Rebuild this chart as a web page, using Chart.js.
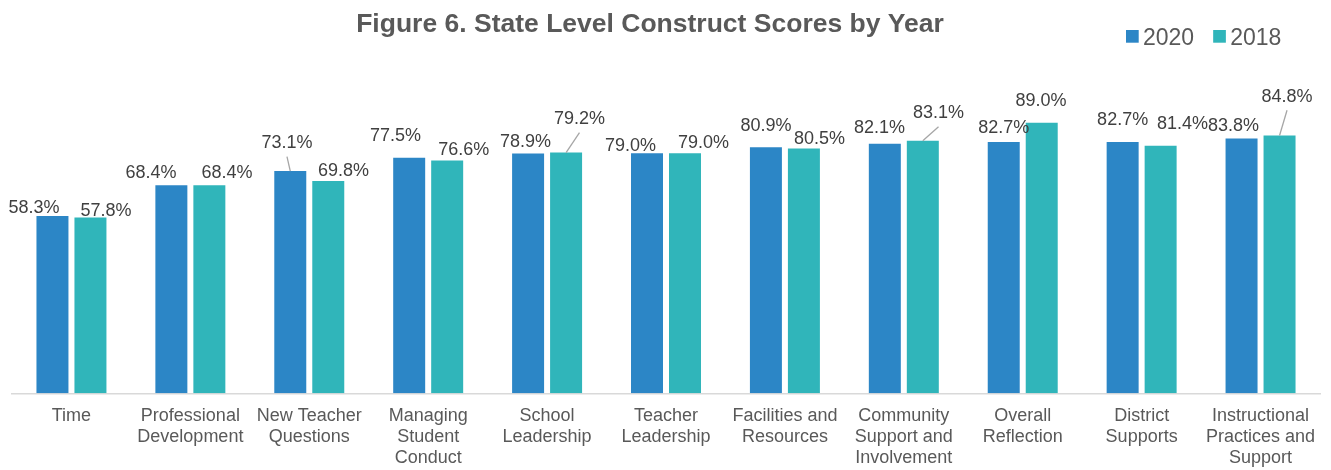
<!DOCTYPE html>
<html>
<head>
<meta charset="utf-8">
<script src="https://cdn.jsdelivr.net/npm/chart.js@4/dist/chart.umd.min.js"></script>
<style>
  html, body { margin: 0; padding: 0; background: #ffffff; }
  #wrap { width: 1331px; height: 470px; }
</style>
</head>
<body>
<div id="wrap"><canvas id="c" width="1331" height="470"></canvas></div>
<script>
const titleText = 'Figure 6. State Level Construct Scores by Year';
const categories = [
  ['Time'],
  ['Professional', 'Development'],
  ['New Teacher', 'Questions'],
  ['Managing', 'Student', 'Conduct'],
  ['School', 'Leadership'],
  ['Teacher', 'Leadership'],
  ['Facilities and', 'Resources'],
  ['Community', 'Support and', 'Involvement'],
  ['Overall', 'Reflection'],
  ['District', 'Supports'],
  ['Instructional', 'Practices and', 'Support']
];
const seriesNames = ['2020', '2018'];
const values2020 = [58.3, 68.4, 73.1, 77.5, 78.9, 79.0, 80.9, 82.1, 82.7, 82.7, 83.8];
const values2018 = [57.8, 68.4, 69.8, 76.6, 79.2, 79.0, 80.5, 83.1, 89.0, 81.4, 84.8];
const colors = ['#2C86C6', '#30B5BA'];

const FONT = '"Liberation Sans", Arial, sans-serif';

// label placement: [dx, dy above bar top, leader line]
const labelOffsets = [
  [[-18.5, 8, 0], [-20.4, 12.4, 0], [-3.3, 28, 1], [-13.7, 21.7, 0], [-2.6, 11.7, 0], [-16.5, 7.4, 0],
   [0, 21.4, 0], [-5.3, 16, 0], [0, 13.6, 0], [0, 21.9, 0], [-8, 12.5, 0]],
  [[15.5, 6.6, 0], [17.6, 12.4, 0], [15.2, 10.1, 0], [16.5, 10.4, 0], [13.4, 33.5, 1], [18.5, 9.8, 0],
   [15.6, 9.3, 0], [15.7, 27.4, 1], [-0.7, 22, 0], [21.9, 21.5, 0], [7.5, 38.8, 1]]
];

const barLabels = {
  id: 'barLabels',
  afterDatasetsDraw(chart, args, opts) {
    const ctx = chart.ctx;
    ctx.save();
    ctx.font = '18px ' + FONT;
    ctx.fillStyle = '#404040';
    ctx.textAlign = 'center';
    ctx.textBaseline = 'middle';
    chart.data.datasets.forEach((ds, di) => {
      const meta = chart.getDatasetMeta(di);
      meta.data.forEach((bar, i) => {
        const o = opts.offsets[di][i];
        const x = bar.x + o[0];
        const y = bar.y - o[1];
        ctx.fillText(ds.data[i].toFixed(1) + '%', x, y);
        if (o[2]) {
          ctx.strokeStyle = '#a6a6a6';
          ctx.lineWidth = 1.3;
          ctx.beginPath();
          ctx.moveTo(x, y + 13.5);
          ctx.lineTo(bar.x, bar.y);
          ctx.stroke();
        }
      });
    });
    ctx.restore();
  }
};

const titleLegend = {
  id: 'titleLegend',
  afterDraw(chart) {
    const ctx = chart.ctx;
    ctx.save();
    ctx.fillStyle = '#595959';
    ctx.font = 'bold 26.5px ' + FONT;
    ctx.textAlign = 'center';
    ctx.textBaseline = 'alphabetic';
    ctx.fillText(titleText, 650, 31.7);
    // legend
    ctx.font = '23px ' + FONT;
    ctx.textAlign = 'left';
    let x = 1126;
    chart.data.datasets.forEach((ds, i) => {
      ctx.fillStyle = ds.backgroundColor;
      ctx.fillRect(x, 30, 12.7, 12.7);
      ctx.fillStyle = '#595959';
      ctx.fillText(ds.label, x + 17, 45);
      x += 17 + ctx.measureText(ds.label).width + 19;
    });
    ctx.restore();
  }
};

new Chart(document.getElementById('c'), {
  type: 'bar',
  data: {
    labels: categories,
    datasets: [
      { label: seriesNames[0], data: values2020, backgroundColor: colors[0], borderWidth: 0 },
      { label: seriesNames[1], data: values2018, backgroundColor: colors[1], borderWidth: 0 }
    ]
  },
  options: {
    responsive: false,
    devicePixelRatio: 1,
    animation: false,
    categoryPercentage: 0.639,
    barPercentage: 0.842,
    layout: { padding: { top: 89.3, left: 12, right: 11, bottom: 0 } },
    plugins: {
      legend: { display: false },
      title: { display: false },
      tooltip: { enabled: false },
      barLabels: { offsets: labelOffsets }
    },
    scales: {
      x: {
        grid: { display: false, drawTicks: false },
        border: { display: true, color: '#d9d9d9', width: 1.5 },
        ticks: {
          autoSkip: false, maxRotation: 0, minRotation: 0,
          padding: 12,
          color: '#595959',
          font: { family: FONT, size: 18, lineHeight: 1.1667 }
        },
        afterFit(s) { s.height = 76.7; }
      },
      y: { display: false, min: 0, max: 100 }
    }
  },
  plugins: [barLabels, titleLegend]
});
</script>
</body>
</html>
